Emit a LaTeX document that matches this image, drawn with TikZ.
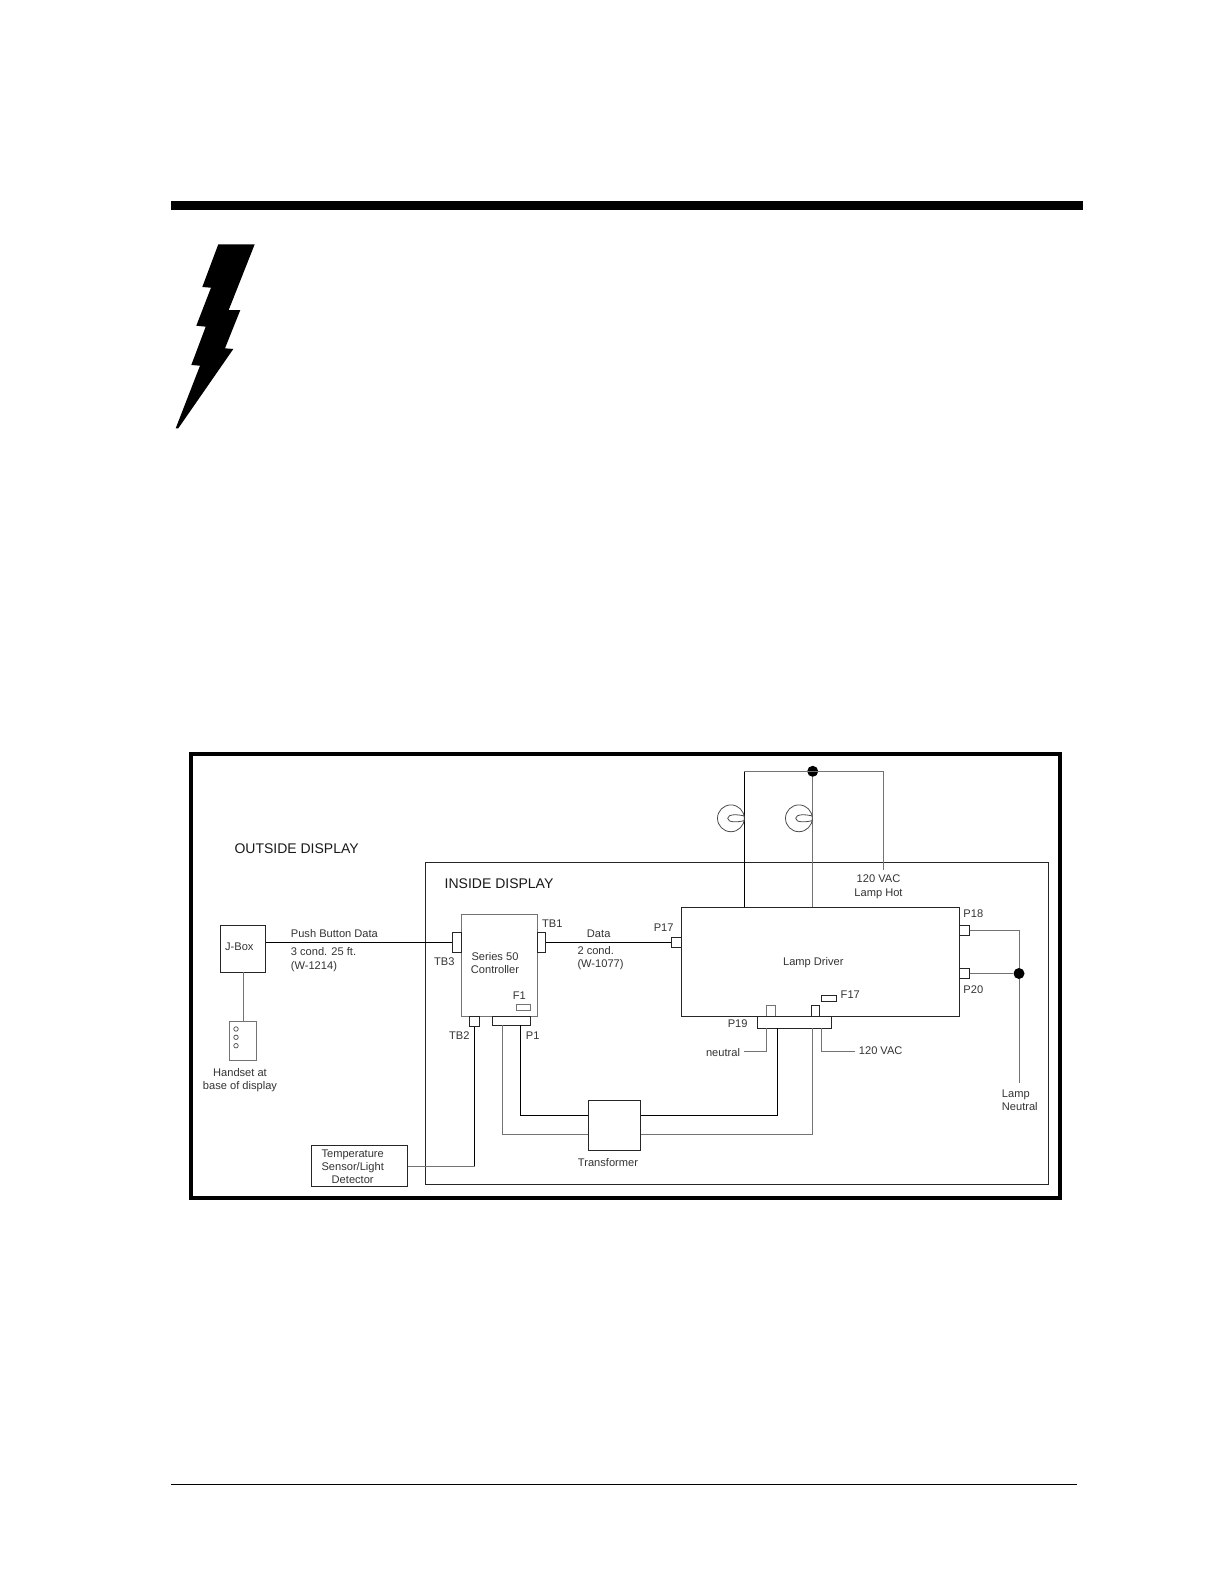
\documentclass[tikz,border=0pt]{standalone}
\usepackage{fontspec}
\setmainfont{Liberation Sans}
\newcommand{\pbox}[6][boxs]{\node[#1,minimum width={(#5-#3)*1pt},minimum height={(#6-#4)*1pt}] (#2) at ({(#3+#5)/2},{(#4+#6)/2}) {};}
\tikzset{
  boxs/.style={draw=black!85,line width=0.9pt,inner sep=0pt,outer sep=0pt,rectangle},
  gboxs/.style={draw=black!55,line width=0.9pt,inner sep=0pt,outer sep=0pt,rectangle},
  blk/.style={draw=black,line width=1pt},
  gry/.style={draw=black!55,line width=0.9pt},
  lbl/.style={inner sep=0pt,text=black!80,font=\fontsize{11.1}{13.2}\selectfont,align=center},
  lbll/.style={lbl,align=left,anchor=west},
  head/.style={inner sep=0pt,text=black!90,font=\fontsize{14}{16}\selectfont,anchor=west},
  jdot/.style={circle,fill=black,inner sep=0pt,minimum size=11pt},
  hole/.style={circle,draw=black!70,line width=0.7pt,inner sep=0pt,minimum size=4.5pt},
  lampc/.style={circle,draw=black!70,line width=0.8pt,inner sep=0pt,minimum size=26.8pt},
}
\begin{document}
\begin{tikzpicture}[x=1pt,y=-1pt]
\useasboundingbox (0,0) rectangle (1225,1585);
\fill[white] (0,0) rectangle (1225,1585);
% page furniture
\fill[black] (171,201) rectangle (1083,210);
\draw[black,line width=1pt] (171,1484.3) -- (1077,1484.3);
\fill[black] (218.3,244.3) -- (254.7,244.3) -- (228.7,310) -- (240.3,310) -- (225,348.3) -- (233.3,349) -- (178.3,428.3) -- (175.7,428.3) -- (200,365.7) -- (191.3,365) -- (205.7,326.7) -- (196.3,325.7) -- (211,287.7) -- (202.3,287) -- cycle;
% frame
\draw[black,line width=4.2pt] (191.3,754) rectangle (1060,1198);
% inside display box
\pbox{inside}{425.3}{862.3}{1048.3}{1184.3}
% boxes
\pbox{jbox}{220.3}{925.3}{265.7}{972.3}
\pbox[gboxs]{handset}{229.3}{1021.3}{256.7}{1060.3}
\node[hole] (h1) at (236,1029) {};
\node[hole] (h2) at (236,1037.3) {};
\node[hole] (h3) at (236,1045.7) {};
\pbox[gboxs]{ctrl}{461.3}{914.7}{537.7}{1016.3}
\pbox{tbthree}{452.3}{932.3}{461.3}{952.3}
\pbox{tbone}{537.7}{932.3}{545.7}{952.3}
\pbox{tbtwo}{469.3}{1016.3}{479.7}{1026.7}
\pbox{pone}{492.3}{1016.3}{530.7}{1025.3}
\pbox[gboxs]{fone}{516}{1004.3}{530.7}{1010.3}
\pbox{temp}{311.3}{1145.3}{407.7}{1186.3}
\pbox{driver}{681.3}{907.3}{959.3}{1016.3}
\pbox{pseventeen}{671.3}{937.3}{681.3}{947.3}
\pbox{peighteen}{959.3}{925.3}{969.7}{935.7}
\pbox{ptwenty}{959.3}{968.3}{969.7}{978.7}
\pbox[gboxs]{tabA}{766.3}{1005.3}{775.3}{1016.3}
\pbox{tabB}{811.3}{1005.3}{819.3}{1016.3}
\pbox{pnineteen}{757.3}{1016.3}{831.3}{1028.3}
\pbox{fseventeen}{821.3}{995.7}{836.7}{1001.7}
\pbox{xfmr}{588.3}{1100.3}{640.7}{1150.3}
% junctions and free ends
\node[jdot] (hot) at (812.7,771.3) {};
\node[jdot] (neu) at (1019,973.5) {};
\coordinate (wa) at (744.3,771.3);
\coordinate (wc) at (883.3,771.3);
\coordinate (we) at (883.3,870);
\coordinate (nend) at (1019,1083.3);
\coordinate (pe) at (1019,930.5);
\coordinate (pa) at (502.7,1025.3);
\coordinate (pb) at (520.3,1025.3);
\coordinate (xa) at (588.3,1115.3);
\coordinate (xb) at (588.3,1134.3);
\coordinate (xc) at (640.7,1115.3);
\coordinate (xd) at (640.7,1134.3);
\coordinate (na) at (777.3,1028.3);
\coordinate (nb) at (812.3,1028.3);
\coordinate (nc) at (766.3,1028.3);
\coordinate (nd) at (821.3,1028.3);
\coordinate (ne) at (743.7,1051.3);
\coordinate (nf) at (855,1051.3);
\coordinate (tw) at (474.5,1166);
% connectors
\draw[blk] (jbox.east |- tbthree.west) -- (tbthree.west);
\draw[gry] (jbox.south) -- (handset.north);
\draw[blk] (tbone.east) -- (pseventeen.west);
\draw[blk] (tbtwo.south) -- (tw);
\draw[gry] (tw) -- (temp.east |- tw);
\draw[blk] (pb) |- (xa);
\draw[gry] (pa) |- (xb);
\draw[blk] (na) |- (xc);
\draw[gry] (nb) |- (xd);
\draw[gry] (nc) |- (ne);
\draw[gry] (nd) |- (nf);
\draw[blk] (wa |- driver.north) -- (wa);
\draw[gry] (wa) -- (wc) -- (we);
\draw[gry] (hot) -- (hot |- driver.north);
\draw[gry] (peighteen.east |- pe) -- (pe) -- (neu);
\draw[gry] (ptwenty.east) -- (neu);
\draw[gry] (neu) -- (nend);
% lamps
\node[lampc] (lampA) at (730.9,818.3) {};
\node[lampc] (lampB) at (798.9,818.3) {};
\draw[black!70,line width=0.8pt] (744.3,816) .. controls (738,814.3) and (727.7,813.8) .. (727.7,818.3) .. controls (727.7,822.8) and (738,822.3) .. (744.3,820.6);
\draw[black!70,line width=0.8pt] (812.3,816) .. controls (806,814.3) and (795.7,813.8) .. (795.7,818.3) .. controls (795.7,822.8) and (806,822.3) .. (812.3,820.6);
% labels
\node[head] (tout) at (234.3,848.3) {OUTSIDE DISPLAY};
\node[head] (tin) at (444.5,884) {INSIDE DISPLAY};
\node[lbl] (tj) at (239.3,946.7) {J-Box};
\node[lbll] (tpb) at (290.7,934) {Push Button Data};
\node[lbll,font=\fontsize{11.1}{14}\selectfont] (tc) at (290.7,960) {3 cond. 25 ft.\\(W-1214)};
\node[lbl] (thand) at (240,1080) {Handset at\\base of display};
\node[lbl] (ttb3) at (444.3,961.3) {TB3};
\node[lbl] (ttb1) at (552.3,923.3) {TB1};
\node[lbl] (tser) at (495,963.2) {Series 50\\Controller};
\node[lbl] (tf1) at (519.3,996) {F1};
\node[lbl] (ttb2) at (459.3,1035.3) {TB2};
\node[lbl] (tp1) at (532.7,1035.3) {P1};
\node[lbl] (ttemp) at (352.7,1166.5) {Temperature\\Sensor/Light\\Detector};
\node[lbl] (tdata) at (598.7,933.7) {Data};
\node[lbll] (t2c) at (577.3,958.5) {2 cond.\\(W-1077)};
\node[lbl] (tp17) at (663.7,927.7) {P17};
\node[lbl] (t120h) at (878.5,886.8) {120 VAC\\Lamp Hot};
\node[lbl] (tp18) at (973.3,913.7) {P18};
\node[lbl] (tp20) at (973.3,989.7) {P20};
\node[lbl] (tld) at (813.3,962.7) {Lamp Driver};
\node[lbl] (tf17) at (850.3,994.3) {F17};
\node[lbl] (tp19) at (737.7,1024) {P19};
\node[lbl] (tneu) at (723,1052.3) {neutral};
\node[lbl] (t120) at (880.7,1051) {120 VAC};
\node[lbll] (tln) at (1001.7,1100) {Lamp\\Neutral};
\node[lbl] (ttr) at (608,1162.3) {Transformer};
\end{tikzpicture}
\end{document}
